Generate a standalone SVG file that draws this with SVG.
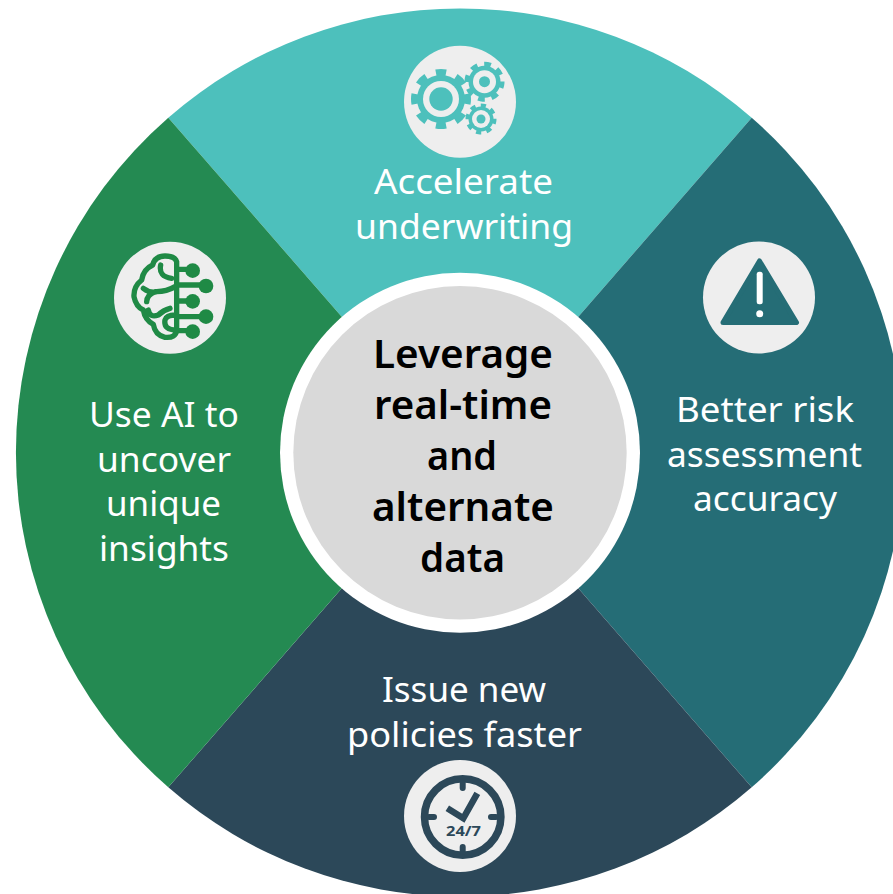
<svg xmlns="http://www.w3.org/2000/svg" width="893" height="894" viewBox="0 0 893 894">
<style>
.t{font-family:"Noto Sans","Open Sans",sans-serif;font-size:35px;fill:#fff;text-anchor:middle}
.c{font-family:"Noto Sans","Open Sans",sans-serif;font-size:39px;font-weight:600;fill:#000;text-anchor:middle}
.disc{fill:#eee}
.br{fill:none;stroke:#1f8a45;stroke-width:16;stroke-linecap:round;stroke-linejoin:round}
.gt{fill:none;stroke:#4dc0bc;stroke-dasharray:1 1;stroke-dashoffset:.5}
</style>
<rect width="893" height="894" fill="#fff"/>
<g id="connectors"/>
<g id="seg-top">
<path d="M460 452.500L168.300 117.700A444 444 0 0 1 751.700 117.700Z" fill="#4dc0bc"/>
<circle class="disc" cx="460" cy="101.700" r="56"/>
<g fill="#4dc0bc">
<circle cx="441" cy="99" r="24"/>
<circle class="gt" cx="441" cy="99" r="26" stroke-width="8" pathLength="16"/>
<circle cx="441" cy="99" r="18" fill="#eee"/><circle cx="441" cy="99" r="11.700"/>
<circle cx="484.500" cy="81.700" r="16"/>
<circle class="gt" cx="484.500" cy="81.700" r="17.500" stroke-width="5" pathLength="16" transform="rotate(10 484.500 81.700)"/>
<circle cx="484.500" cy="81.700" r="11.500" fill="#eee"/><circle cx="484.500" cy="81.700" r="5.500"/>
<circle cx="481" cy="119" r="12.500"/>
<circle class="gt" cx="481" cy="119" r="13.500" stroke-width="4" pathLength="16" transform="rotate(10 481 119)"/>
<circle cx="481" cy="119" r="9" fill="#eee"/><circle cx="481" cy="119" r="4.500"/>
</g>
<text class="t"><tspan x="463.500" y="194" textLength="179" lengthAdjust="spacingAndGlyphs">Accelerate</tspan><tspan x="464" y="239" textLength="218" lengthAdjust="spacingAndGlyphs">underwriting</tspan></text>
</g>
<g id="seg-right">
<path d="M460 452.500L751.700 117.700A444 444 0 0 1 751.700 787.300Z" fill="#256d76"/>
<circle class="disc" cx="759" cy="297.500" r="56"/>
<path d="M759.500 261L796.500 322.500H723Z" fill="#256d76" stroke="#256d76" stroke-width="5" stroke-linejoin="round"/>
<rect x="756.700" y="271.700" width="6" height="32.500" rx="2.500" fill="#fff"/>
<circle cx="759.700" cy="313.700" r="3.500" fill="#fff"/>
<text class="t"><tspan x="765" y="422" textLength="178" lengthAdjust="spacingAndGlyphs">Better risk</tspan><tspan x="764.500" y="467" textLength="195" lengthAdjust="spacingAndGlyphs">assessment</tspan><tspan x="765" y="511" textLength="144" lengthAdjust="spacingAndGlyphs">accuracy</tspan></text>
</g>
<g id="seg-bottom">
<path d="M460 452.500L751.700 787.300A444 444 0 0 1 168.300 787.300Z" fill="#2c4859"/>
<circle class="disc" cx="460" cy="816" r="56"/>
<circle cx="462.700" cy="817" r="38.200" fill="none" stroke="#2c4859" stroke-width="7.500"/>
<g stroke="#2c4859" stroke-width="6" fill="none">
<path d="M462.700 783V788M462.700 847V852M429 817H434M491 817H496" stroke-linecap="round"/>
<path d="M447.300 808.300L463.300 818.300L477.300 793.300" stroke-width="6.500" stroke-linecap="butt"/>
</g>
<text x="463.500" y="835.700" font-family="'Noto Sans',sans-serif" font-size="15" font-weight="700" fill="#2c4859" text-anchor="middle" textLength="35" lengthAdjust="spacingAndGlyphs">24/7</text>
<text class="t"><tspan x="464" y="702" textLength="164" lengthAdjust="spacingAndGlyphs">Issue new</tspan><tspan x="464.500" y="747" textLength="235" lengthAdjust="spacingAndGlyphs">policies faster</tspan></text>
</g>
<g id="seg-left">
<path d="M460 452.500L168.300 787.300A444 444 0 0 1 168.300 117.700Z" fill="#248a52"/>
<circle class="disc" cx="170" cy="297.700" r="56"/>
<g transform="translate(100 230) scale(.3333)">
<path class="br" d="M230 118V95Q225 78 195 78Q165 78 158 105Q130 118 125 150Q100 170 102 200Q108 230 130 240Q135 270 160 283Q165 315 195 322Q228 325 230 300V118M182 105Q175 140 215 145M130 175Q150 190 170 185Q200 185 225 170M165 185Q140 195 140 215M145 240Q150 265 175 255Q190 240 210 235M230 300Q190 300 195 270Q200 255 225 255"/>
<path class="br" d="M230 118H275M230 165H315M230 213H275M230 260H315M230 302H275"/>
<g fill="#1f8a45"><circle cx="278" cy="122" r="22"/><circle cx="318" cy="168" r="22"/><circle cx="278" cy="214" r="22"/><circle cx="318" cy="260" r="22"/><circle cx="278" cy="305" r="22"/></g>
</g>
<text class="t"><tspan x="164" y="427" textLength="150" lengthAdjust="spacingAndGlyphs">Use AI to</tspan><tspan x="164" y="472" textLength="134" lengthAdjust="spacingAndGlyphs">uncover</tspan><tspan x="163.500" y="516" textLength="115" lengthAdjust="spacingAndGlyphs">unique</tspan><tspan x="164" y="561" textLength="130" lengthAdjust="spacingAndGlyphs">insights</tspan></text>
</g>
<g id="center">
<circle cx="460" cy="452.700" r="180" fill="#fff"/>
<circle cx="460" cy="452.700" r="166.700" fill="#d9d9d9"/>
<text class="c"><tspan x="463" y="368" textLength="180" lengthAdjust="spacingAndGlyphs">Leverage</tspan><tspan x="463" y="418.500" textLength="178" lengthAdjust="spacingAndGlyphs">real-time</tspan><tspan x="462" y="470" textLength="70" lengthAdjust="spacingAndGlyphs">and</tspan><tspan x="463" y="521" textLength="182" lengthAdjust="spacingAndGlyphs">alternate</tspan><tspan x="462.500" y="572" textLength="85" lengthAdjust="spacingAndGlyphs">data</tspan></text>
</g>
</svg>
